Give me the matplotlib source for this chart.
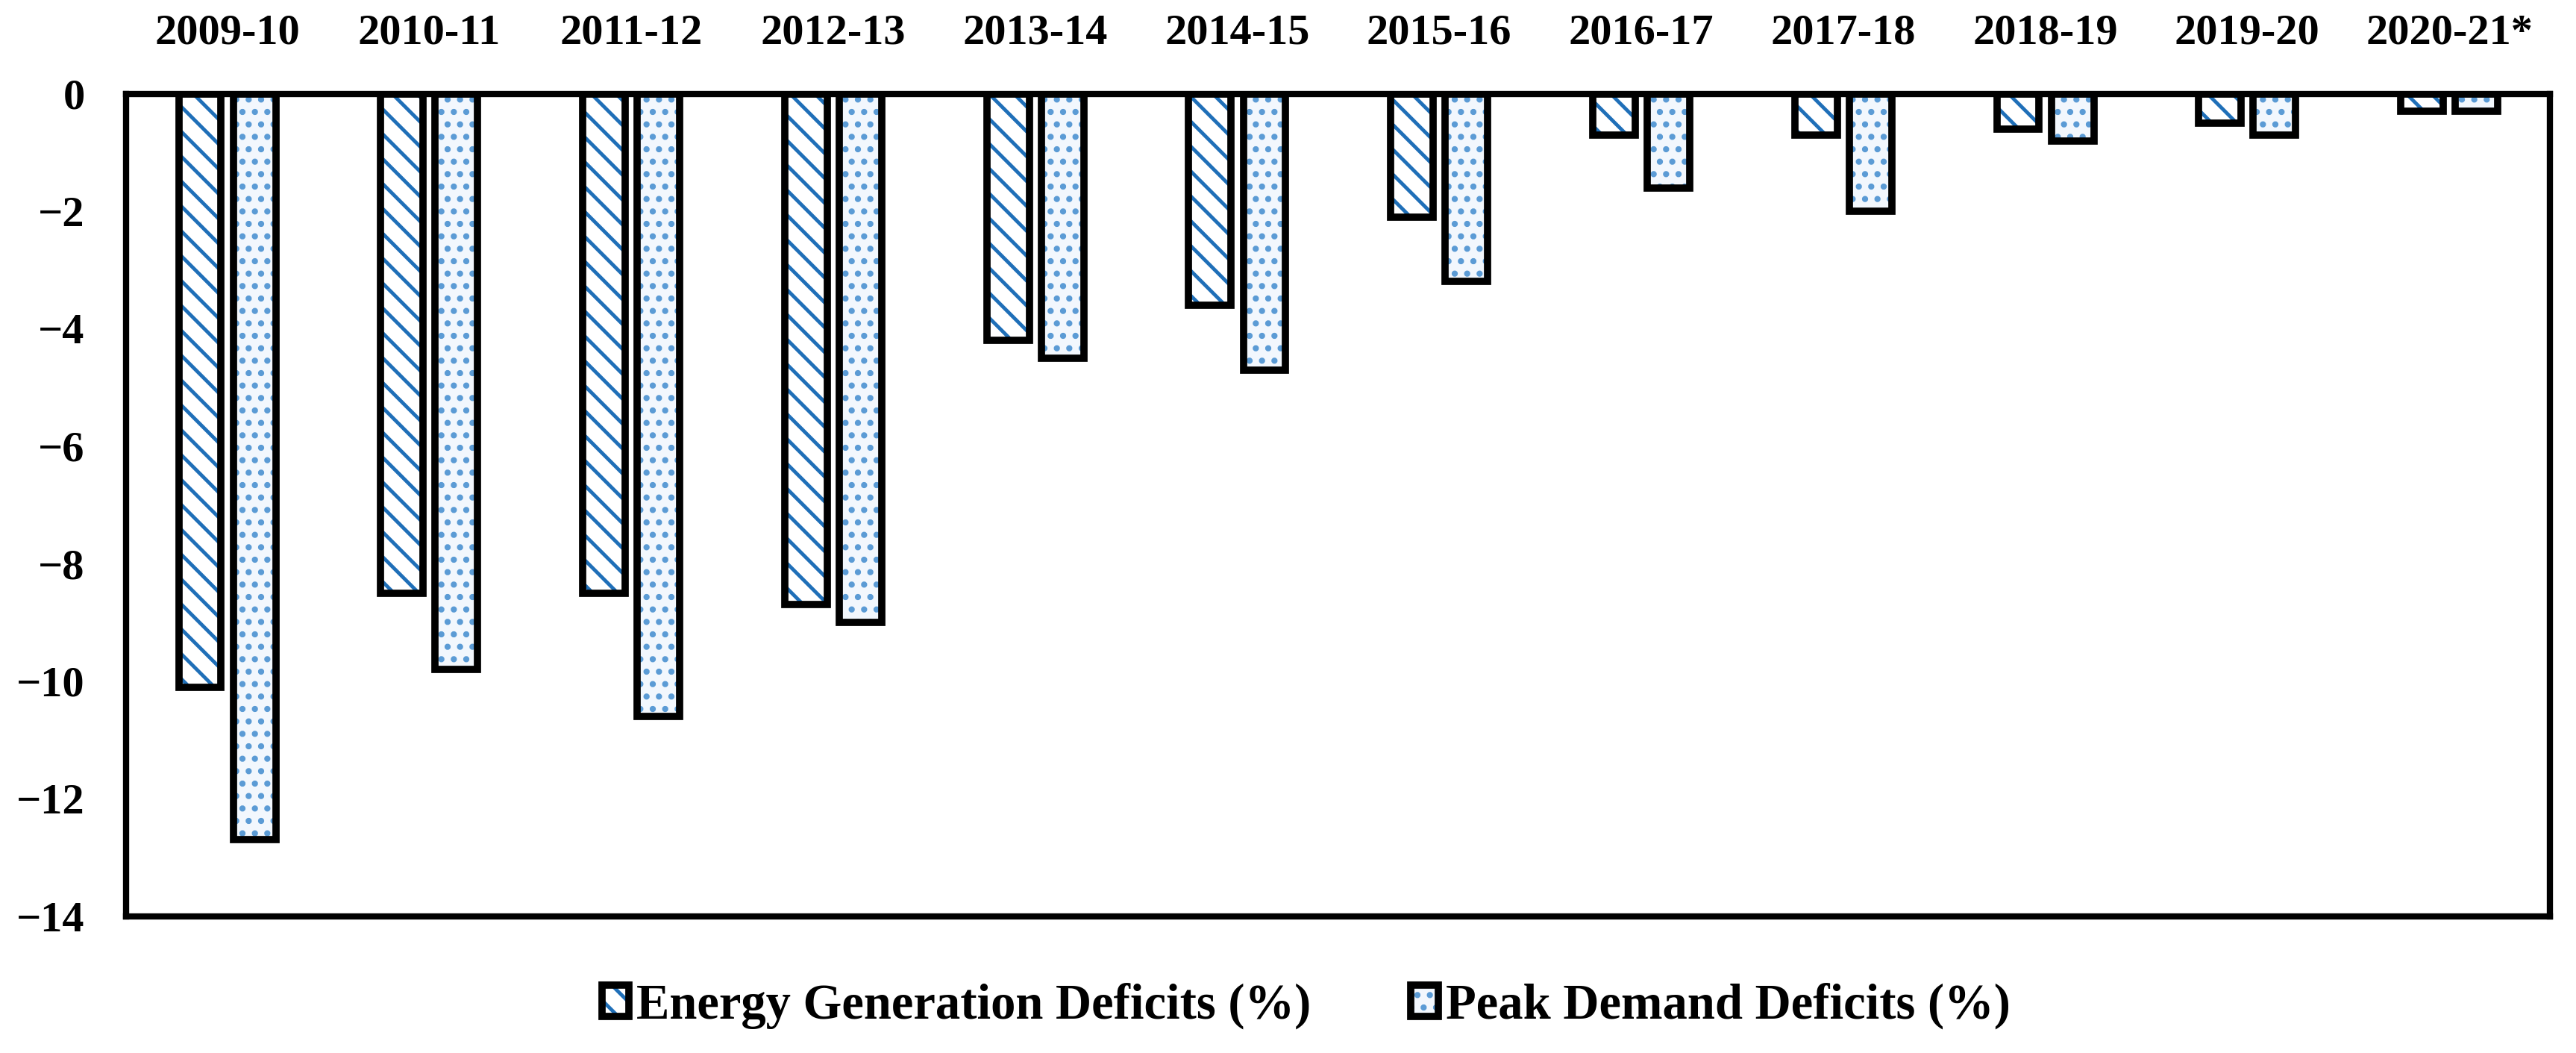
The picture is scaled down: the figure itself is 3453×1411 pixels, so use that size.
import numpy as np
import matplotlib.pyplot as plt
from matplotlib.patches import Patch
from matplotlib.legend_handler import HandlerTuple

years = ['2009-10', '2010-11', '2011-12', '2012-13', '2013-14', '2014-15',
         '2015-16', '2016-17', '2017-18', '2018-19', '2019-20', '2020-21*']
energy = [-10.1, -8.5, -8.5, -8.7, -4.2, -3.6, -2.1, -0.7, -0.7, -0.6, -0.5, -0.3]
peak = [-12.7, -9.8, -10.6, -9.0, -4.5, -4.7, -3.2, -1.6, -2.0, -0.8, -0.7, -0.3]

blue = '#1f6fb8'
light = '#5b9bd5'
pale = '#f2f7fd'

plt.rcParams['font.family'] = 'Liberation Serif'
plt.rcParams['font.weight'] = 'bold'
plt.rcParams['hatch.linewidth'] = 3.5

fig = plt.figure(figsize=(34.53, 14.11), dpi=100)
ax = fig.add_axes([0.049, 0.130, 0.941, 0.781])

x = np.arange(len(years))
w = 0.21
off = 0.135

# hatch layer then thick black outline
ax.bar(x - off, energy, w, color='white', edgecolor=blue, hatch='\\', linewidth=0)
ax.bar(x + off, peak, w, color=pale, edgecolor=light, hatch='.', linewidth=0)
ax.bar(x - off, energy, w, fill=False, edgecolor='black', linewidth=7)
ax.bar(x + off, peak, w, fill=False, edgecolor='black', linewidth=7)

ax.set_xlim(-0.5, len(years) - 0.5)
ax.set_ylim(-14, 0)
ax.set_yticks(range(-14, 1, 2))
ax.set_xticks(x)
ax.set_xticklabels(years)
ax.xaxis.tick_top()
ax.tick_params(axis='both', length=0, labelsize=42, pad=40)
for s in ax.spines.values():
    s.set_linewidth(6)

h1 = (Patch(facecolor='white', edgecolor=blue, hatch='\\', linewidth=0),
      Patch(fill=False, edgecolor='black', linewidth=7))
h2 = (Patch(facecolor=pale, edgecolor=light, hatch='.', linewidth=0),
      Patch(fill=False, edgecolor='black', linewidth=7))
fig.legend([h1, h2], ['Energy Generation Deficits (%)', 'Peak Demand Deficits (%)'],
           handler_map={tuple: HandlerTuple(ndivide=1, pad=0)},
           loc='center', bbox_to_anchor=(0.507, 0.045), ncol=2, frameon=False,
           fontsize=48, handlelength=0.55, handleheight=0.6, handletextpad=0.15,
           columnspacing=2.0)

fig.savefig('out.png', dpi=100)
